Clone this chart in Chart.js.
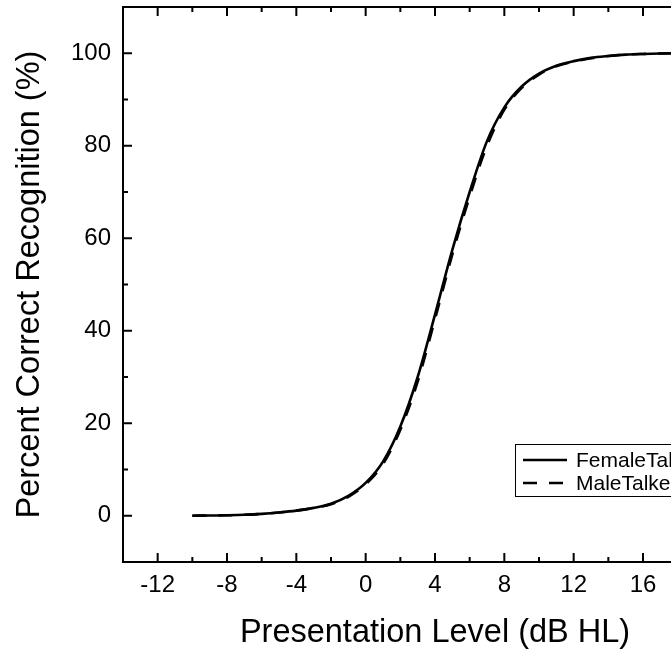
<!DOCTYPE html>
<html>
<head>
<meta charset="utf-8">
<script src="https://cdn.jsdelivr.net/npm/chart.js@4/dist/chart.umd.min.js"></script>
<style>
html, body { margin: 0; padding: 0; background: #fff; overflow: hidden; }
#wrap { width: 671px; height: 658px; overflow: hidden; }
</style>
</head>
<body>
<div id="wrap"><canvas id="chart_recognition" width="760" height="658"></canvas></div>
<script>
// presentation level (dB HL)
var levels = [-10, -9, -8, -7, -6, -5, -4, -3, -2, -1, 0, 1, 2, 3, 4, 5, 6, 7, 8, 9, 10, 11, 12, 13, 14, 15, 16, 17, 18, 19, 20];
// percent correct recognition
var femaleTalker = [0, 0.05, 0.1, 0.2, 0.4, 0.7, 1.1, 1.7, 2.6, 4.3, 7.1, 11.7, 19.3, 30, 43.5, 57.5, 70, 81, 88.3, 92.8, 95.6, 97.3, 98.3, 99, 99.4, 99.7, 99.85, 99.95, 100, 100, 100];
var maleTalker = [0, 0.05, 0.1, 0.2, 0.4, 0.7, 1.1, 1.7, 2.5, 4.1, 6.8, 11.2, 18.6, 29, 42.5, 56.5, 69, 80, 87.8, 92.5, 95.4, 97.2, 98.2, 98.9, 99.4, 99.7, 99.85, 99.95, 100, 100, 100];
var seriesNames = ['FemaleTalker', 'MaleTalker'];
var xTickLabels = [-12, -8, -4, 0, 4, 8, 12, 16, 20];
var yTickLabels = [0, 20, 40, 60, 80, 100];

var FONT = "'Liberation Sans', Arial, sans-serif";

function points(ys) {
    return levels.map(function (x, i) { return { x: x, y: ys[i] }; });
}

var framePlugin = {
    id: 'frame',
    afterDatasetsDraw: function (chart) {
        var ctx = chart.ctx, a = chart.chartArea;
        var sx = chart.scales.x, sy = chart.scales.y;
        ctx.save();
        ctx.strokeStyle = '#000';
        ctx.lineWidth = 2;
        ctx.strokeRect(a.left, a.top, a.right - a.left, a.bottom - a.top);

        function withMinors(vals, min, max) {
            var step = vals[1] - vals[0], out = [];
            vals.forEach(function (v) { out.push([v, 9]); });
            for (var v = vals[0] - step / 2; v < max; v += step) {
                if (v > min) out.push([v, 5]);
            }
            return out;
        }
        ctx.beginPath();
        withMinors(xTickLabels, sx.min, sx.max).forEach(function (t) {
            var p = sx.getPixelForValue(t[0]);
            ctx.moveTo(p, a.bottom); ctx.lineTo(p, a.bottom - t[1]);
            ctx.moveTo(p, a.top); ctx.lineTo(p, a.top + t[1]);
        });
        withMinors(yTickLabels, sy.min, sy.max).forEach(function (t) {
            var p = sy.getPixelForValue(t[0]);
            ctx.moveTo(a.left, p); ctx.lineTo(a.left + t[1], p);
            ctx.moveTo(a.right, p); ctx.lineTo(a.right - t[1], p);
        });
        ctx.stroke();

        // legend box
        var lx = 515, ly = 444;
        ctx.lineWidth = 1;
        ctx.strokeRect(lx + 0.5, ly + 0.5, 200, 52);
        ctx.font = '21px ' + FONT;
        ctx.fillStyle = '#000';
        ctx.textBaseline = 'middle';
        chart.data.datasets.forEach(function (ds, i) {
            var y = 460 + i * 23;
            ctx.lineWidth = 2.5;
            ctx.setLineDash(ds.borderDash || []);
            ctx.beginPath();
            ctx.moveTo(523, y); ctx.lineTo(567, y);
            ctx.stroke();
            ctx.setLineDash([]);
            ctx.fillText(ds.label, 576, y + 1);
        });
        ctx.restore();
    }
};

var chart_recognition = new Chart(document.getElementById('chart_recognition'), {
    type: 'line',
    data: {
        datasets: [
            {
                label: seriesNames[0],
                data: points(femaleTalker),
                borderColor: '#000',
                borderWidth: 2.6,
                pointRadius: 0,
                cubicInterpolationMode: 'monotone',
                fill: false
            },
            {
                label: seriesNames[1],
                data: points(maleTalker),
                borderColor: '#000',
                borderWidth: 2.6,
                borderDash: [14, 12],
                pointRadius: 0,
                cubicInterpolationMode: 'monotone',
                fill: false
            }
        ]
    },
    options: {
        animation: false,
        responsive: false,
        layout: { padding: { left: 0, top: 7, right: 13, bottom: 0 } },
        plugins: {
            legend: { display: false },
            tooltip: { enabled: false }
        },
        scales: {
            x: {
                type: 'linear',
                min: -14,
                max: 22,
                grid: { display: false, drawTicks: false },
                border: { display: false },
                ticks: {
                    color: '#000',
                    font: { family: FONT, size: 24 },
                    padding: 9,
                    maxRotation: 0
                },
                title: {
                    display: true,
                    text: 'Presentation Level (dB HL)',
                    color: '#000',
                    font: { family: FONT, size: 32.5 },
                    padding: { top: 0, bottom: 5 }
                },
                afterBuildTicks: function (s) {
                    s.ticks = xTickLabels.map(function (v) { return { value: v }; });
                },
                afterFit: function (s) {
                    s.height = 96;
                    s.paddingLeft = 0; s.paddingRight = 0;
                }
            },
            y: {
                type: 'linear',
                min: -10,
                max: 110,
                grid: { display: false, drawTicks: false },
                border: { display: false },
                ticks: {
                    color: '#000',
                    font: { family: FONT, size: 24 },
                    padding: 12
                },
                title: {
                    display: true,
                    text: 'Percent Correct Recognition (%)',
                    color: '#000',
                    font: { family: FONT, size: 32.5 },
                    padding: { top: 11, bottom: 0 }
                },
                afterBuildTicks: function (s) {
                    s.ticks = yTickLabels.map(function (v) { return { value: v }; });
                },
                afterFit: function (s) {
                    s.width = 123;
                    s.paddingTop = 0; s.paddingBottom = 0;
                }
            }
        }
    },
    plugins: [framePlugin]
});
</script>
</body>
</html>
